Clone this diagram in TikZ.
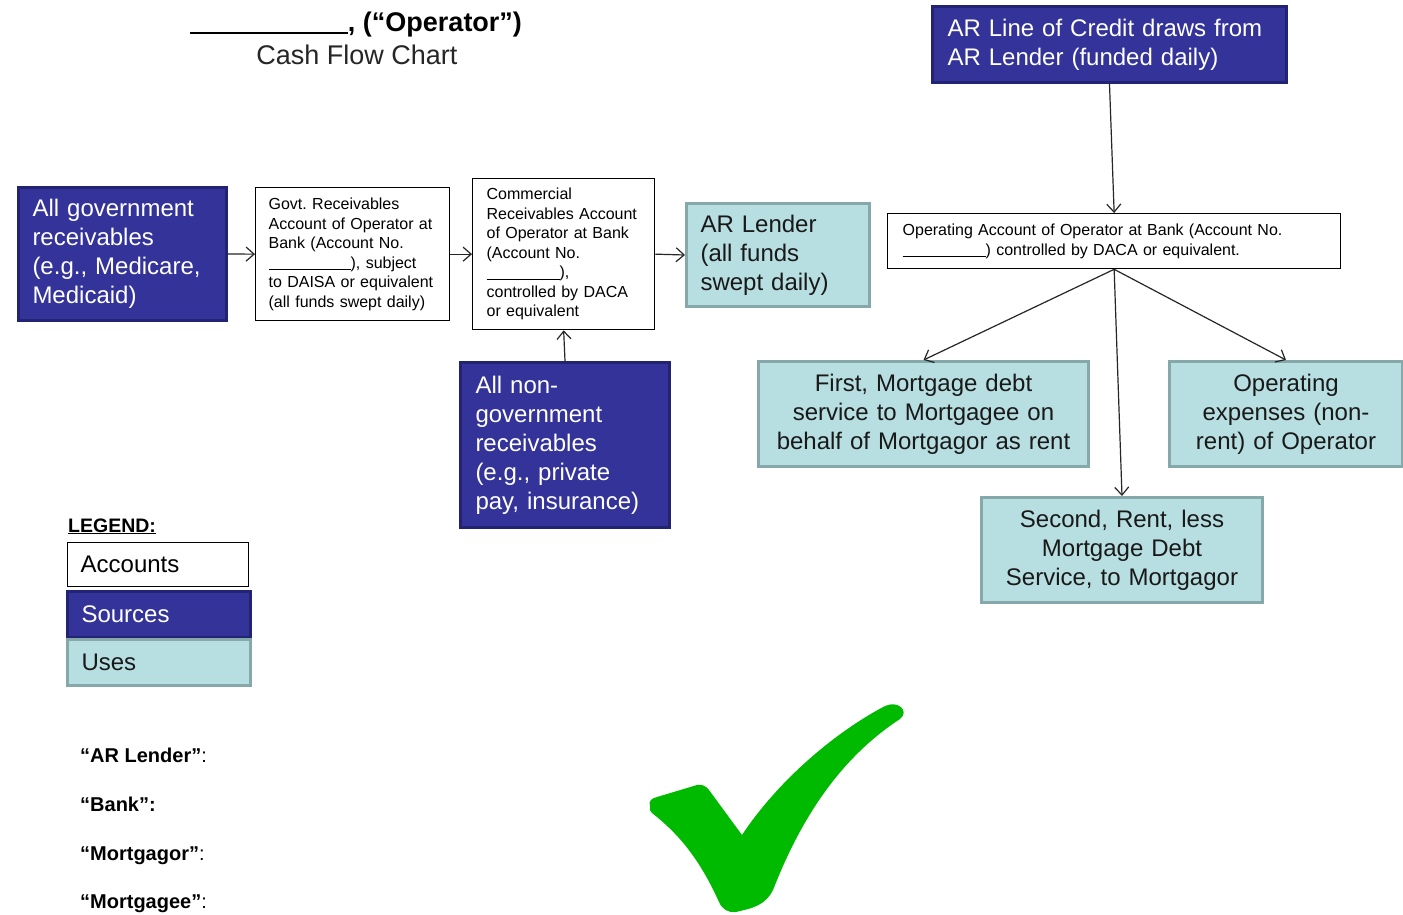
\documentclass[tikz,border=0pt]{standalone}
\usepackage{fontspec}
\setmainfont{Liberation Sans}
\usetikzlibrary{arrows.meta}
\frenchspacing
\definecolor{srcfill}{RGB}{51,51,153}
\definecolor{srcborder}{RGB}{35,35,115}
\definecolor{usefill}{RGB}{183,222,224}
\definecolor{useborder}{RGB}{135,168,170}
\definecolor{checkgreen}{RGB}{0,186,0}
\tikzset{
  big/.style={font=\fontsize{24}{29}\selectfont},
  small/.style={font=\fontsize{16}{19.5}\selectfont},
  acct/.style={draw=black, line width=1.3pt, fill=white, inner sep=0pt, text=black, small, align=left, anchor=north west},
  src/.style={draw=srcborder, line width=3pt, fill=srcfill, inner sep=0pt, text=white, big, align=left, anchor=north west},
  usebox/.style={draw=useborder, line width=3pt, fill=usefill, inner sep=0pt, text=black!90, big, anchor=north west},
  arr/.style={draw=black!85, line width=1.2pt, -{Straight Barb[length=8pt,width=14pt]}},
  defn/.style={anchor=base west, font=\fontsize{20}{24}\selectfont\bfseries, inner sep=0pt},
}
\newcommand{\blank}[1]{\rule[-2pt]{#1}{0.9pt}}
\begin{document}
\begin{tikzpicture}[x=1pt,y=-1pt]
\useasboundingbox (0,0) rectangle (1403,914);
\fill[white] (0,0) rectangle (1403,914);

% title
\node[anchor=base, inner sep=0pt, font=\fontsize{27}{32}\selectfont\bfseries] (title) at (356,31) {\rule[-3pt]{158pt}{2pt}, (“Operator”)};
\node[anchor=base, inner sep=0pt, font=\fontsize{27}{32}\selectfont, text=black!85] (subtitle) at (357,64) {Cash Flow Chart};

% sources
\node[src, minimum width=208pt, minimum height=133pt, text width=180pt] (gov) at (17,186)
  {All government\\receivables\\(e.g., Medicare,\\Medicaid)};
\node[src, minimum width=209pt, minimum height=165pt, text width=179pt] (nongov) at (459,361)
  {All non-\\government\\receivables\\(e.g., private\\pay, insurance)};
\node[src, minimum width=354pt, minimum height=76pt, text width=324pt] (arline) at (931,5)
  {AR Line of Credit draws from\\AR Lender (funded daily)};

% accounts
\node[acct, minimum width=194pt, minimum height=133pt, text width=168pt] (govacct) at (255,187)
  {Govt. Receivables\\Account of Operator at\\Bank (Account No.\\\blank{82pt}), subject\\to DAISA or equivalent\\(all funds swept daily)};
\node[acct, minimum width=182pt, minimum height=151pt, text width=154pt] (comacct) at (472,178)
  {Commercial\\Receivables Account\\of Operator at Bank\\(Account No.\\\blank{73pt}),\\controlled by DACA\\or equivalent};
\node[acct, minimum width=453pt, minimum height=55pt, text width=423pt] (opacct) at (887,213)
  {Operating Account of Operator at Bank (Account No.\\\blank{83pt}) controlled by DACA or equivalent.};

% uses
\node[usebox, align=left, minimum width=183pt, minimum height=103pt, text width=155pt] (arlender) at (685,202)
  {AR Lender\\(all funds\\swept daily)};
\node[usebox, align=center, minimum width=330pt, minimum height=105pt, text width=310pt] (first) at (757,360)
  {First, Mortgage debt\\service to Mortgagee on\\behalf of Mortgagor as rent};
\node[usebox, align=center, minimum width=233pt, minimum height=105pt, text width=220pt] (opexp) at (1168,360)
  {Operating\\expenses (non-\\rent) of Operator};
\node[usebox, align=center, minimum width=281pt, minimum height=105pt, text width=260pt] (second) at (980,496)
  {Second, Rent, less\\Mortgage Debt\\Service, to Mortgagor};

% connectors
\draw[arr] (gov.east) -- (govacct.west);
\draw[arr] (govacct.east) -- (comacct.west);
\draw[arr] (comacct.east) -- (arlender.west);
\draw[arr] (nongov.north) -- (comacct.south);
\draw[arr] (arline.south) -- (opacct.north);
\draw[arr] (opacct.south) -- (first.north);
\draw[arr] (opacct.south) -- (opexp.north);
\draw[arr] (opacct.south) -- (second.north);

% legend
\node[anchor=base west, inner sep=0pt, font=\fontsize{19.5}{24}\selectfont\bfseries] (legend) at (68,532) {\underline{LEGEND:}};
\node[acct, big, minimum width=181pt, minimum height=44pt, text width=155pt] (lacc) at (67,542) {Accounts};
\node[src, minimum width=183pt, minimum height=46pt, text width=155pt] (lsrc) at (66,590) {Sources};
\node[usebox, align=left, minimum width=183pt, minimum height=46pt, text width=155pt] (luse) at (66,638) {Uses};

% definitions
\node[defn] (d1) at (80,762) {“AR Lender”\mdseries:};
\node[defn] (d2) at (80,811) {“Bank”:};
\node[defn] (d3) at (80,860) {“Mortgagor”\mdseries:};
\node[defn] (d4) at (80,908) {“Mortgagee”\mdseries:};

% check mark
\fill[checkgreen] (650,806) .. controls (648,801) and (652,798) .. (657,797) -- (697,785)
  .. controls (702,784) and (706,786) .. (709,790) -- (742,835)
  .. controls (775,785) and (830,735) .. (885,706)
  .. controls (898,700) and (910,711) .. (900,719)
  .. controls (845,755) and (805,810) .. (775,885)
  .. controls (771,897) and (763,905) .. (748,909) -- (736,912)
  .. controls (728,913) and (722,909) .. (719,902)
  .. controls (700,860) and (680,835) .. (652,813)
  .. controls (650,811) .. cycle;
\end{tikzpicture}
\end{document}
